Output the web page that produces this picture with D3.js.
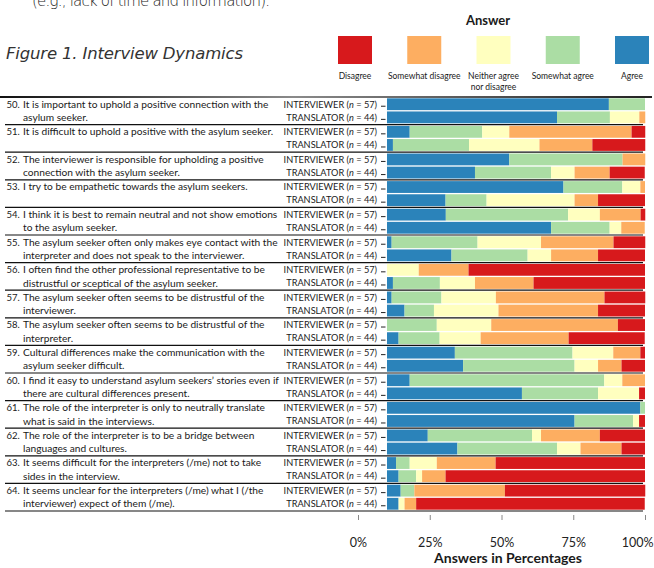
<!DOCTYPE html>
<html>
<head>
<meta charset="utf-8">
<script src="https://cdn.jsdelivr.net/npm/d3@7"></script>
<style>
  body { margin: 0; background: #fff; }
  svg { display: block; }
  text { font-family: Lato, "Liberation Sans", sans-serif; fill: #1a1a1a; }
</style>
</head>
<body>
<svg id="chart" width="654" height="568"></svg>
<script>
// stacking order, left to right
const answers = ["Agree", "Somewhat agree", "Neither agree nor disagree", "Somewhat disagree", "Disagree"];
const answerColors = ["#2b83ba", "#abdda4", "#ffffbf", "#fdae61", "#d7191c"];
// legend order and wrapped labels
const legendOrder = ["Disagree", "Somewhat disagree", "Neither agree nor disagree", "Somewhat agree", "Agree"];
const legendLines = [["Disagree"], ["Somewhat disagree"], ["Neither agree", "nor disagree"], ["Somewhat agree"], ["Agree"]];

const groups = ["INTERVIEWER", "TRANSLATOR"];
const groupN = [57, 44];

const statementNums = ["50.", "51.", "52.", "53.", "54.", "55.", "56.", "57.", "58.", "59.", "60.", "61.", "62.", "63.", "64."];
const statementLines = [
  ["It is important to uphold a positive connection with the", "asylum seeker."],
  ["It is difficult to uphold a positive with the asylum seeker."],
  ["The interviewer is responsible for upholding a positive", "connection with the asylum seeker."],
  ["I try to be empathetic towards the asylum seekers."],
  ["I think it is best to remain neutral and not show emotions", "to the asylum seeker."],
  ["The asylum seeker often only makes eye contact with the", "interpreter and does not speak to the interviewer."],
  ["I often find the other professional representative to be", "distrustful or sceptical of the asylum seeker."],
  ["The asylum seeker often seems to be distrustful of the", "interviewer."],
  ["The asylum seeker often seems to be distrustful of the", "interpreter."],
  ["Cultural differences make the communication with the", "asylum seeker difficult."],
  ["I find it easy to understand asylum seekers\u2019 stories even if", "there are cultural differences present."],
  ["The role of the interpreter is only to neutrally translate", "what is said in the interviews."],
  ["The role of the interpreter is to be a bridge between", "languages and cultures."],
  ["It seems difficult for the interpreters (/me) not to take", "sides in the interview."],
  ["It seems unclear for the interpreters (/me) what I (/the", "interviewer) expect of them (/me)."]
];

// percentages: Agree, Somewhat agree, Neither, Somewhat disagree, Disagree
const interviewerPct = [
  [86.0, 14.0, 0, 0, 0],
  [8.8, 28.1, 10.5, 47.4, 5.3],
  [47.4, 43.9, 0, 8.8, 0],
  [68.4, 22.8, 7.0, 1.8, 0],
  [22.8, 47.4, 12.3, 15.8, 1.8],
  [1.8, 33.3, 24.6, 28.1, 12.3],
  [0, 0, 12.3, 19.3, 68.4],
  [1.8, 19.3, 21.1, 42.1, 15.8],
  [0, 19.3, 21.1, 49.1, 10.5],
  [26.3, 45.6, 15.8, 10.5, 1.8],
  [8.8, 75.4, 7.0, 8.8, 0],
  [98.2, 1.8, 0, 0, 0],
  [15.8, 40.4, 3.5, 22.8, 17.5],
  [3.5, 5.3, 10.5, 22.8, 57.9],
  [5.3, 5.3, 0, 35.1, 54.4]
];
const translatorPct = [
  [65.9, 20.5, 11.4, 2.3, 0],
  [2.3, 29.5, 27.3, 20.5, 20.5],
  [34.1, 29.5, 9.1, 13.6, 13.6],
  [22.7, 15.9, 34.1, 9.1, 18.2],
  [63.6, 22.7, 4.5, 9.1, 0],
  [25.0, 29.5, 9.1, 18.2, 18.2],
  [2.3, 18.2, 13.6, 22.7, 43.2],
  [6.8, 11.4, 25.0, 38.6, 18.2],
  [4.5, 15.9, 15.9, 34.1, 29.5],
  [29.5, 43.2, 9.1, 9.1, 9.1],
  [52.3, 29.5, 15.9, 0, 2.3],
  [72.7, 22.7, 2.3, 0, 2.3],
  [27.3, 38.6, 9.1, 15.9, 9.1],
  [4.5, 6.8, 2.3, 9.1, 77.3],
  [4.5, 0, 2.3, 4.5, 88.6]
];
const axisTicks = [0, 25, 50, 75, 100];

const svg = d3.select("#chart");
const headFont = "'DejaVu Sans', Lato, sans-serif";

// rows for the stack
const rows = [];
statementNums.forEach((s, i) => {
  rows.push({ stmt: s, group: groups[0], vals: interviewerPct[i] });
  rows.push({ stmt: s, group: groups[1], vals: translatorPct[i] });
});

const color = d3.scaleOrdinal().domain(answers).range(answerColors);

// bars and the printed axis do not share the same origin in the source figure
const x = d3.scaleLinear().domain([0, 100]).range([387, 645]);
const xAxisScale = d3.scaleLinear().domain([0, 100]).range([358, 645]);

const yStmt = d3.scaleBand().domain(statementNums).range([97, 511]);
const yGroup = d3.scaleBand().domain(groups).range([0, yStmt.bandwidth()])
  .paddingInner(0.1).paddingOuter(0.1);
const barY = d => yStmt(d.stmt) + yGroup(d.group);

// header text (the page above is cut off at the top edge)
svg.append("text")
  .attr("x", 32).attr("y", 6)
  .attr("font-size", 15).attr("font-weight", 200)
  .attr("textLength", 238)
  .style("font-family", headFont)
  .style("fill", "#222")
  .text("(e.g., lack of time and information).");

svg.append("text")
  .attr("x", 6).attr("y", 59)
  .attr("font-size", 16.5).attr("font-weight", 200)
  .attr("font-style", "italic")
  .attr("textLength", 237)
  .style("font-family", headFont)
  .style("fill", "#333")
  .text("Figure 1. Interview Dynamics");

// legend
const legendX = d3.scalePoint().domain(legendOrder).range([355, 632]);
svg.append("text")
  .attr("x", 488).attr("y", 25)
  .attr("text-anchor", "middle")
  .attr("font-size", 13).attr("font-weight", 700)
  .text("Answer");

const leg = svg.append("g").selectAll("g")
  .data(legendOrder)
  .join("g")
  .attr("transform", d => `translate(${legendX(d)},0)`);
leg.append("rect")
  .attr("x", -17).attr("y", 36)
  .attr("width", 34).attr("height", 28)
  .attr("fill", d => color(d));
leg.append("text")
  .attr("text-anchor", "middle")
  .attr("font-size", 8.5)
  .selectAll("tspan")
  .data((d, i) => legendLines[i])
  .join("tspan")
  .attr("x", 0)
  .attr("y", (d, i) => 79 + i * 11)
  .text(d => d);

// gradient rule under header
const grad = svg.append("defs").append("linearGradient").attr("id", "rule");
grad.append("stop").attr("offset", "0%").attr("stop-color", "#111");
grad.append("stop").attr("offset", "45%").attr("stop-color", "#8a8a8a");
grad.append("stop").attr("offset", "100%").attr("stop-color", "#222");

// stacked bars
const stack = d3.stack()
  .keys(d3.range(answers.length))
  .value((d, k) => d.vals[k]);
const series = stack(rows);

svg.append("g").selectAll("g")
  .data(series)
  .join("g")
  .attr("fill", s => color(answers[s.key]))
  .selectAll("rect")
  .data(s => s)
  .join("rect")
  .attr("x", d => x(d[0]))
  .attr("width", d => Math.max(0, x(d[1]) - x(d[0])))
  .attr("y", d => barY(d.data))
  .attr("height", yGroup.bandwidth());

// group labels and small ticks
const lab = svg.append("g").selectAll("g")
  .data(rows)
  .join("g")
  .attr("transform", d => `translate(0,${barY(d) + yGroup.bandwidth() / 2})`);
lab.append("text")
  .attr("x", 377).attr("y", 3.3)
  .attr("text-anchor", "end")
  .attr("font-size", 9.2)
  .each(function (d) {
    const t = d3.select(this);
    const gi = groups.indexOf(d.group);
    t.append("tspan").text(`${d.group} (`);
    t.append("tspan").attr("font-style", "italic").text("n");
    t.append("tspan").text(` = ${groupN[gi]})`);
  });
lab.append("line")
  .attr("x1", 381).attr("x2", 385.5)
  .attr("y1", 2).attr("y2", 2)
  .attr("stroke", "#222").attr("stroke-width", 1);

// statement labels
const st = svg.append("g").selectAll("g")
  .data(statementNums)
  .join("g")
  .attr("transform", d => `translate(0,${yStmt(d)})`);
st.append("text")
  .attr("x", 6.5).attr("y", 10.5)
  .attr("font-size", 9.5)
  .text(d => d);
st.append("text")
  .attr("font-size", 10.2)
  .selectAll("tspan")
  .data((d, i) => statementLines[i])
  .join("tspan")
  .attr("x", 23)
  .attr("y", (d, i) => 10.5 + i * 13.5)
  .text(d => d);

// row rules
svg.append("g").selectAll("line")
  .data(statementNums.slice(1).concat(["end"]))
  .join("line")
  .attr("x1", 5).attr("x2", 643)
  .attr("y1", d => d === "end" ? yStmt.range()[1] : yStmt(d))
  .attr("y2", d => d === "end" ? yStmt.range()[1] : yStmt(d))
  .attr("stroke", "#111").attr("stroke-width", 1.2);

svg.append("rect")
  .attr("x", 0).attr("y", yStmt.range()[0] - 1)
  .attr("width", 652).attr("height", 2)
  .attr("fill", "url(#rule)");

// x axis
const xAxis = svg.append("g")
  .attr("transform", "translate(0,515)")
  .call(d3.axisBottom(xAxisScale).tickValues(axisTicks)
    .tickSize(5).tickPadding(18).tickFormat(d => d + "%"));
xAxis.select(".domain").remove();
xAxis.selectAll(".tick line").attr("stroke", "#888");
xAxis.selectAll(".tick text")
  .attr("font-size", 12.5)
  .attr("font-family", "Lato, 'Liberation Sans', sans-serif")
  .style("fill", "#222")
  .filter(d => d === 100)
  .attr("text-anchor", "end")
  .attr("x", 8);

svg.append("text")
  .attr("x", 508).attr("y", 563)
  .attr("text-anchor", "middle")
  .attr("font-size", 14).attr("font-weight", 700)
  .text("Answers in Percentages");
</script>
</body>
</html>
